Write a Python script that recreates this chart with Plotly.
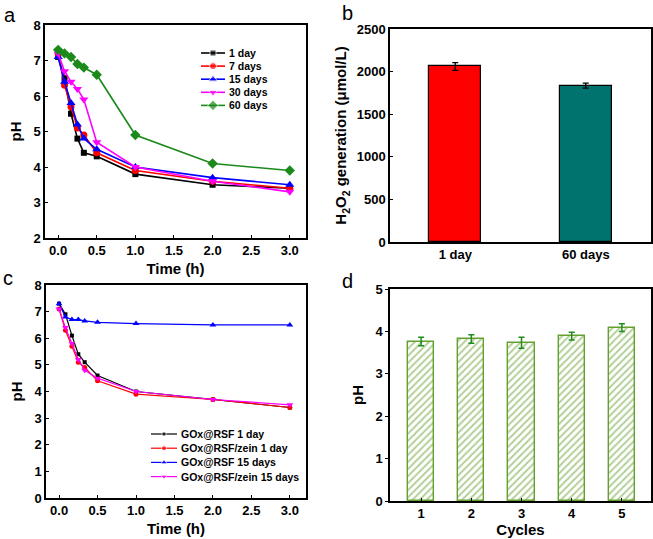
import plotly.graph_objects as go

W, H = 653, 539

# ---------- data ----------
time_h = [0, 0.083, 0.167, 0.25, 0.333, 0.5, 1.0, 2.0, 3.0]

# panel a
ph_1day = [7.1, 6.5, 5.5, 4.8, 4.4, 4.3, 3.8, 3.5, 3.4]
ph_7days = [7.2, 6.3, 5.7, 5.1, 4.9, 4.4, 3.9, 3.6, 3.4]
ph_15days = [7.1, 6.4, 5.8, 5.2, 4.8, 4.5, 4.0, 3.7, 3.5]
ph_30days = [7.2, 6.7, 6.4, 6.2, 5.9, 4.7, 4.0, 3.6, 3.3]
ph_60days = [7.3, 7.2, 7.1, 6.9, 6.8, 6.6, 4.9, 4.1, 3.9]
names_a = ["1 day", "7 days", "15 days", "30 days", "60 days"]

# panel b
h2o2_labels = ["1 day", "60 days"]
h2o2_values = [2060, 1835]
h2o2_err = [45, 30]

# panel c
c_rsf_1day = [7.3, 6.9, 6.1, 5.4, 5.1, 4.6, 4.0, 3.7, 3.4]
c_zein_1day = [7.1, 6.3, 5.7, 5.1, 4.9, 4.4, 3.9, 3.7, 3.4]
c_rsf_15days = [7.3, 6.8, 6.7, 6.7, 6.65, 6.6, 6.55, 6.5, 6.5]
c_zein_15days = [7.1, 6.4, 5.8, 5.2, 4.8, 4.5, 4.0, 3.7, 3.5]
names_c = ["GOx@RSF 1 day", "GOx@RSF/zein 1 day", "GOx@RSF 15 days", "GOx@RSF/zein 15 days"]

# panel d
cycles = [1, 2, 3, 4, 5]
cycle_ph = [3.76, 3.82, 3.73, 3.89, 4.09]
cycle_err = [0.10, 0.10, 0.13, 0.09, 0.09]

time_ticks = [0, 0.5, 1, 1.5, 2, 2.5, 3]
time_ticktext = ["0.0", "0.5", "1.0", "1.5", "2.0", "2.5", "3.0"]

# ---------- styles / layout ----------
def px_x(a, b):
    return [a / W, b / W]

def px_y(top, bottom):
    return [1 - bottom / H, 1 - top / H]

FONT = "Liberation Sans, Arial, sans-serif"
tickfont = dict(family=FONT, size=13, color="black", weight="bold")
titlefont = dict(family=FONT, size=15, color="black", weight="bold")
legfont = dict(family=FONT, size=10.5, color="black", weight="bold")

style_a = [("#000000", "square", 6), ("#ff0000", "circle", 7), ("#0000ff", "triangle-up", 8),
           ("#ff00ff", "triangle-down", 8), ("#1a8a1a", "diamond", 8)]
style_c = [("#000000", "square", 4), ("#ff0000", "circle", 5), ("#0000ff", "triangle-up", 6),
           ("#ff00ff", "triangle-down", 6)]

# legend placement (pixel layout): line start/end, text x, first row y, row step
leg_a = dict(x0=201, x1=225, tx=227, y0=53, dy=13.1)
leg_c = dict(x0=151, x1=177, tx=179, y0=434, dy=14.2)

fig = go.Figure()

# panel a
for name, ys, (col, sym, sz) in zip(names_a, [ph_1day, ph_7days, ph_15days, ph_30days, ph_60days], style_a):
    fig.add_trace(go.Scatter(
        x=time_h, y=ys, name=name, mode="lines+markers",
        line=dict(color=col, width=1.6),
        marker=dict(color=col, symbol=sym, size=sz),
        xaxis="x", yaxis="y", showlegend=False))

# panel b
fig.add_trace(go.Bar(
    x=[1, 2], y=h2o2_values,
    marker=dict(color=["#ff0000", "#00736e"], line=dict(color="black", width=1.2)),
    width=0.4,
    error_y=dict(type="data", array=h2o2_err, color="black", thickness=1.3, width=3),
    showlegend=False, xaxis="x2", yaxis="y2"))

# panel c
for name, ys, (col, sym, sz) in zip(names_c, [c_rsf_1day, c_zein_1day, c_rsf_15days, c_zein_15days], style_c):
    fig.add_trace(go.Scatter(
        x=time_h, y=ys, name=name, mode="lines+markers",
        line=dict(color=col, width=1.2),
        marker=dict(color=col, symbol=sym, size=sz),
        xaxis="x3", yaxis="y3", showlegend=False))

# panel d
GREEN = "#64a02e"
fig.add_trace(go.Bar(
    x=cycles, y=cycle_ph, width=0.52,
    marker=dict(color="white", line=dict(color=GREEN, width=1.4),
                pattern=dict(shape="/", fgcolor=GREEN, bgcolor="white", size=5, solidity=0.4)),
    error_y=dict(type="data", array=cycle_err, color="#1e8c1e", thickness=1.5, width=3),
    showlegend=False, xaxis="x4", yaxis="y4"))

# compact legends drawn on a pixel-overlay axis
def add_legend(names, styles, L, lw):
    for i, (name, (col, sym, sz)) in enumerate(zip(names, styles)):
        yy = L["y0"] + i * L["dy"]
        xm = (L["x0"] + L["x1"]) / 2
        fig.add_trace(go.Scatter(
            x=[L["x0"], xm, L["x1"]], y=[yy, yy, yy], mode="lines+markers",
            line=dict(color=col, width=lw),
            marker=dict(color=col, symbol=sym, size=[0, sz, 0]),
            xaxis="x5", yaxis="y5", showlegend=False, hoverinfo="skip"))
        fig.add_annotation(text=name, x=L["tx"], y=yy, xref="x5", yref="y5",
                           showarrow=False, xanchor="left", yanchor="middle", font=legfont)

add_legend(names_a, style_a, leg_a, 1.6)
add_legend(names_c, style_c, leg_c, 1.2)

axis_common = dict(showline=True, linecolor="black", linewidth=1.5, mirror=True,
                   showgrid=False, zeroline=False, tickfont=tickfont,
                   ticklen=3, tickcolor="black", tickwidth=1, automargin=False)

fig.update_layout(
    width=W, height=H, margin=dict(l=0, r=0, t=0, b=0, autoexpand=False),
    paper_bgcolor="white", plot_bgcolor="rgba(0,0,0,0)",
    font=dict(family=FONT, color="black"),
    showlegend=False,
    # panel a
    xaxis=dict(domain=px_x(45, 306), anchor="y", range=[-0.17, 3.21],
               tickvals=time_ticks, ticktext=time_ticktext,
               ticks="inside", title=dict(text="Time (h)", font=titlefont, standoff=6), **axis_common),
    yaxis=dict(domain=px_y(25, 238), anchor="x", range=[2, 8], dtick=1,
               ticks="inside", title=dict(text="pH", font=titlefont, standoff=8), **axis_common),
    # panel b
    xaxis2=dict(domain=px_x(390, 651), anchor="y2", range=[0.5, 2.5],
                tickvals=[1, 2], ticktext=h2o2_labels, ticks="", **axis_common),
    yaxis2=dict(domain=px_y(29, 242), anchor="x2", range=[0, 2500], dtick=500,
                ticks="inside",
                title=dict(text="H<sub>2</sub>O<sub>2</sub> generation (μmol/L)", font=titlefont, standoff=6),
                **axis_common),
    # panel c
    xaxis3=dict(domain=px_x(46, 306), anchor="y3", range=[-0.17, 3.21],
                tickvals=time_ticks, ticktext=time_ticktext,
                ticks="inside", title=dict(text="Time (h)", font=titlefont, standoff=6), **axis_common),
    yaxis3=dict(domain=px_y(285, 498), anchor="x3", range=[0, 8], dtick=1,
                ticks="inside", title=dict(text="pH", font=titlefont, standoff=8), **axis_common),
    # panel d
    xaxis4=dict(domain=px_x(390, 651), anchor="y4", range=[0.38, 5.58],
                tickvals=cycles, ticks="inside",
                title=dict(text="Cycles", font=titlefont, standoff=2), **axis_common),
    yaxis4=dict(domain=px_y(289, 501), anchor="x4", range=[0, 5], dtick=1,
                ticks="outside", title=dict(text="pH", font=titlefont, standoff=8), **axis_common),
    # pixel overlay for legends
    xaxis5=dict(domain=[0, 1], anchor="y5", range=[0, W], visible=False, fixedrange=True),
    yaxis5=dict(domain=[0, 1], anchor="x5", range=[H, 0], visible=False, fixedrange=True),
    bargap=0,
)

letters = [("a", 10, 15), ("b", 347, 13), ("c", 8, 278), ("d", 347, 281)]
for t, x, y in letters:
    fig.add_annotation(text=t, x=x / W, y=1 - y / H, xref="paper", yref="paper",
                       showarrow=False, xanchor="center", yanchor="middle",
                       font=dict(family=FONT, size=20, color="black"))

fig.write_html("out.html", config={"displayModeBar": False},
               post_script="document.body.style.margin='0';document.body.style.overflow='hidden';")
